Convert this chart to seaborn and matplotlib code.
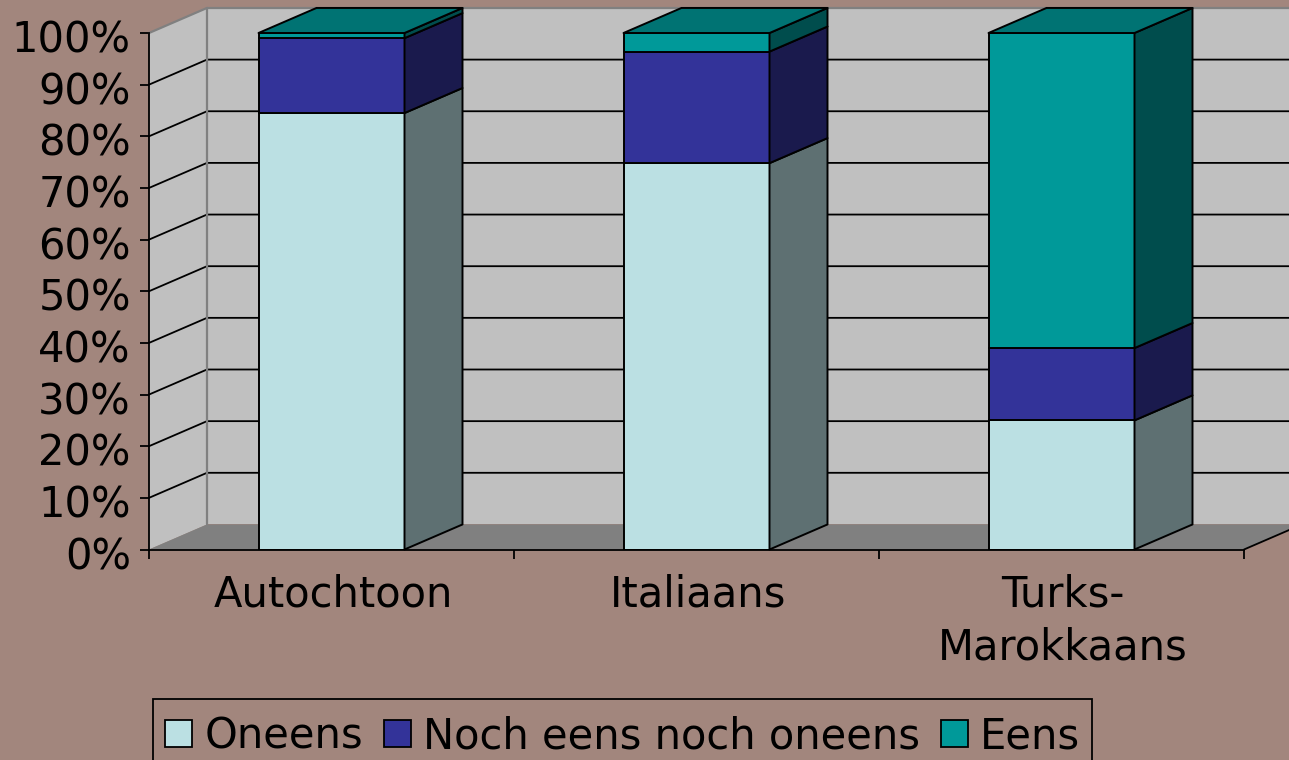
import numpy as np
import seaborn as sns
import matplotlib
matplotlib.use("Agg")
import matplotlib.pyplot as plt
from matplotlib.patches import Polygon, Rectangle
from matplotlib.transforms import ScaledTranslation

categories = ["Autochtoon", "Italiaans", "Turks-\nMarokkaans"]
series_names = ["Oneens", "Noch eens noch oneens", "Eens"]
oneens = [84.5, 74.8, 25.0]
noch = [14.5, 21.6, 14.0]
eens = [1.0, 3.6, 61.0]
yticks = list(range(0, 101, 10))

BG = "#A2867D"
WALL = "#C0C0C0"
FLOOR = "#808080"
FRONT = ["#BBE0E3", "#333399", "#009999"]
SIDE = ["#5E7072", "#1A1A4D", "#004D4D"]
TOP = ["#8CA8AA", "#262673", "#007373"]

W, H = 1289, 760
sns.set_theme(style="white", rc={"axes.edgecolor": "black", "text.color": "black",
                                 "xtick.color": "black", "ytick.color": "black"})
plt.rcParams["font.family"] = ["DejaVu Sans"]
FS = 30
LW = 1.4
GL = 1.3

fig = plt.figure(figsize=(W / 100, H / 100), dpi=100, facecolor=BG)
ax = fig.add_axes([149 / W, (H - 549.5) / H, (1244 - 149) / W, (549.5 - 33) / H])
ax.set_facecolor("none")

stack = [oneens, noch, eens]
bottoms = np.zeros(3)
for name, vals, col in zip(series_names, stack, FRONT):
    sns.barplot(x=categories, y=vals, bottom=bottoms, color=col, saturation=1, width=0.4,
                edgecolor="black", linewidth=LW, zorder=3, ax=ax, label=name,
                errorbar=None, legend=False)
    bottoms = bottoms + np.array(vals)

X0, X1 = -0.5, 2.5
Y0, Y1 = 0, 100
DX = 58 / 365
DY = 4.85
ax.set_xlim(X0, X1)
ax.set_ylim(Y0, Y1)


def poly(points, fc, ec="none", lw=0.0, z=1.0):
    ax.add_patch(Polygon(points, closed=True, facecolor=fc, edgecolor=ec, linewidth=lw,
                         zorder=z, clip_on=False, joinstyle="round"))


# walls and floor
poly([(X0 + DX, Y0 + DY), (X1 + DX, Y0 + DY), (X1 + DX, Y1 + DY), (X0 + DX, Y1 + DY)], WALL, z=0.5)
poly([(X0, Y0), (X0 + DX, Y0 + DY), (X0 + DX, Y1 + DY), (X0, Y1)], WALL, z=0.6)
poly([(X0, Y0), (X1, Y0), (X1 + DX, Y0 + DY), (X0 + DX, Y0 + DY)], FLOOR, z=0.6)
for t in yticks[1:-1]:
    ax.plot([X0, X0 + DX, X1 + DX], [t, t + DY, t + DY], color="black", lw=GL,
            zorder=0.8, clip_on=False, solid_joinstyle="miter")
ax.plot([X0, X0 + DX, X0 + DX], [Y1, Y1 + DY, Y0 + DY], color=FLOOR, lw=1.6, zorder=0.9, clip_on=False)
ax.plot([X0 + DX, X1 + DX], [Y1 + DY, Y1 + DY], color=FLOOR, lw=1.6, zorder=0.9, clip_on=False)
ax.plot([X1, X1 + DX], [Y0, Y0 + DY], color="black", lw=GL, zorder=0.9, clip_on=False)

# bar depth faces
cum = np.vstack([np.zeros(3), np.cumsum(stack, axis=0)])
half = 0.2
for i in range(3):
    r = i + half
    l = i - half
    for s in range(3):
        lo, hi = cum[s, i], cum[s + 1, i]
        poly([(r, lo), (r + DX, lo + DY), (r + DX, hi + DY), (r, hi)], SIDE[s], "black", LW, 3.1)
    hi = cum[3, i]
    poly([(l, hi), (r, hi), (r + DX, hi + DY), (l + DX, hi + DY)], TOP[2], "black", LW, 3.1)

# axes
for side in ("top", "right"):
    ax.spines[side].set_visible(False)
for side in ("left", "bottom"):
    ax.spines[side].set_linewidth(GL)
    ax.spines[side].set_color("black")
    ax.spines[side].set_zorder(4)

ax.set_yticks(yticks)
ax.set_yticklabels([f"{t}%" for t in yticks], fontsize=FS)
ax.tick_params(axis="y", which="major", left=True, length=6.5, width=GL, pad=7, color="black")
ax.set_xticks(range(3))
ax.set_xticklabels(categories, fontsize=FS, linespacing=1.34)
ax.set_xticks([-0.5, 0.5, 1.5, 2.5], minor=True)
ax.tick_params(axis="x", which="major", length=0, pad=17)
ax.tick_params(axis="x", which="minor", bottom=True, length=6.5, width=GL, color="black")
ax.set_xlabel("")
ax.set_ylabel("")

# labels sit slightly off their ticks in the reference
px = fig.dpi_scale_trans
for lab in ax.get_yticklabels():
    lab.set_transform(lab.get_transform() + ScaledTranslation(0.5 / 100, -3 / 100, px))
for lab in ax.get_xticklabels():
    lab.set_transform(lab.get_transform() + ScaledTranslation(1.5 / 100, 0, px))

handles = [plt.Rectangle((0, 0), 1, 1, facecolor=c, edgecolor="black", linewidth=GL) for c in FRONT]
fig.legend(handles, series_names, loc="upper left",
           bbox_to_anchor=(152 / W, (H - 702) / H), bbox_transform=fig.transFigure,
           ncol=3, fontsize=FS, frameon=False, borderaxespad=0, borderpad=0.32,
           handlelength=0.64, handleheight=0.64, handletextpad=0.3,
           columnspacing=0.5, labelspacing=0)
fig.add_artist(Rectangle((153 / W, -10 / H), (1092 - 153) / W, (H - 699 + 10) / H,
                         transform=fig.transFigure, facecolor="none", edgecolor="black", linewidth=GL))

fig.savefig("out.png", dpi=100, facecolor=BG)
